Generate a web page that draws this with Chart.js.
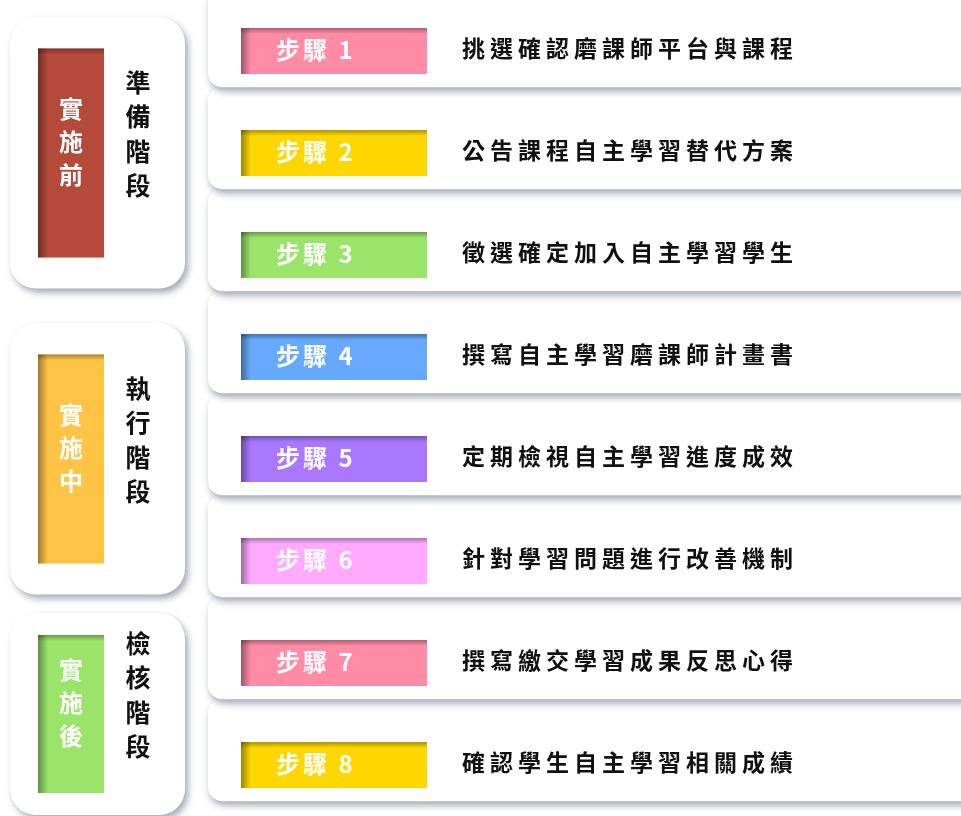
<!DOCTYPE html>
<html>
<head>
<meta charset="utf-8">
<script src="https://cdn.jsdelivr.net/npm/chart.js@4.4.0/dist/chart.umd.min.js"></script>
<style>
html, body { margin: 0; padding: 0; background: #fff; }
#wrap { width: 961px; height: 816px; position: relative; }
</style>
</head>
<body>
<div id="wrap"><canvas id="myChart"></canvas></div>
<script>
// steps (one row each)
const stepLabels = ['步驟 1', '步驟 2', '步驟 3', '步驟 4', '步驟 5', '步驟 6', '步驟 7', '步驟 8'];
const stepTexts = [
    '挑選確認磨課師平台與課程',
    '公告課程自主學習替代方案',
    '徵選確定加入自主學習學生',
    '撰寫自主學習磨課師計畫書',
    '定期檢視自主學習進度成效',
    '針對學習問題進行改善機制',
    '撰寫繳交學習成果反思心得',
    '確認學生自主學習相關成績'
];
const stepColors = ['#FF8BA7', '#FFD700', '#9BE46A', '#66AAFF', '#AA77FF', '#FFAAFF', '#FF8BA7', '#FFD700'];

// phases (groups of steps)
const phaseLabels = ['實施前', '實施中', '實施後'];
const phaseTitles = ['準備階段', '執行階段', '檢核階段'];
const phaseSteps = [3, 3, 2];
const phaseColors = ['#B54A3A', '#FFC445', '#9BE46A'];

const FONT = "'Noto Sans CJK TC', 'Noto Sans', sans-serif";

// x scale runs 0..961, so these are in scale units
const lay = {
    barFrom: 241, barTo: 427,
    cardLeft: 208, cardRight: 990,
    labelX: 276, textX: 462,
    phaseCardL: 10, phaseCardR: 185,
    phaseBoxL: 38, phaseBoxR: 104,
    phaseTitleX: 138
};

function innerShadow(ctx, x0, y0, x1, y1) {
    let g = ctx.createLinearGradient(x0, 0, x0 + 10, 0);
    g.addColorStop(0, 'rgba(0,0,0,0.38)');
    g.addColorStop(1, 'rgba(0,0,0,0)');
    ctx.fillStyle = g;
    ctx.fillRect(x0, y0, 10, y1 - y0);
    g = ctx.createLinearGradient(0, y0, 0, y0 + 6);
    g.addColorStop(0, 'rgba(0,0,0,0.32)');
    g.addColorStop(1, 'rgba(0,0,0,0)');
    ctx.fillStyle = g;
    ctx.fillRect(x0, y0, x1 - x0, 6);
}

function verticalText(ctx, str, x, cy, gap) {
    const chars = Array.from(str);
    chars.forEach((c, k) => {
        ctx.fillText(c, x, cy + (k - (chars.length - 1) / 2) * gap);
    });
}

const layoutPlugin = {
    id: 'layoutPlugin',
    beforeDatasetsDraw(chart) {
        const ctx = chart.ctx;
        const xs = chart.scales.x, ys = chart.scales.y;
        const row = ys.getPixelForValue(1) - ys.getPixelForValue(0);

        // step cards, bottom one first so the upper card's shadow lies on top
        ctx.save();
        for (let i = stepLabels.length - 1; i >= 0; i--) {
            const cy = ys.getPixelForValue(i);
            const top = cy - 0.65 * row, bottom = cy + 0.355 * row;
            ctx.shadowColor = 'rgba(70,80,105,0.5)';
            ctx.shadowBlur = 7;
            ctx.shadowOffsetX = 2;
            ctx.shadowOffsetY = 4;
            ctx.fillStyle = '#fff';
            ctx.beginPath();
            ctx.roundRect(xs.getPixelForValue(lay.cardLeft), top,
                xs.getPixelForValue(lay.cardRight) - xs.getPixelForValue(lay.cardLeft), bottom - top, 14);
            ctx.fill();
        }
        ctx.restore();

        // phase cards + coloured boxes
        let first = 0;
        phaseSteps.forEach((n, p) => {
            const last = first + n - 1;
            const mid = (ys.getPixelForValue(first) + ys.getPixelForValue(last)) / 2;
            const half = (1.05 + 0.5 * (n - 1)) * row / 2;
            const bTop = mid - half, bBot = mid + half;

            ctx.save();
            ctx.shadowColor = 'rgba(70,80,105,0.5)';
            ctx.shadowBlur = 7;
            ctx.shadowOffsetX = 3;
            ctx.shadowOffsetY = 4;
            ctx.fillStyle = '#fff';
            ctx.beginPath();
            const cl = xs.getPixelForValue(lay.phaseCardL), cr = xs.getPixelForValue(lay.phaseCardR);
            const pad = n > 2 ? 31 : 22;
            ctx.roundRect(cl, bTop - pad, cr - cl, bBot - bTop + 2 * pad, 26);
            ctx.fill();
            ctx.restore();

            const bl = xs.getPixelForValue(lay.phaseBoxL), br = xs.getPixelForValue(lay.phaseBoxR);
            ctx.fillStyle = phaseColors[p];
            ctx.fillRect(bl, bTop, br - bl, bBot - bTop);
            innerShadow(ctx, bl, bTop, br, bBot);

            ctx.save();
            ctx.textAlign = 'center';
            ctx.textBaseline = 'middle';
            ctx.fillStyle = '#fff';
            ctx.font = 'bold 24px ' + FONT;
            verticalText(ctx, phaseLabels[p], (bl + br) / 2, mid - 11, 33);
            ctx.fillStyle = '#111';
            ctx.font = 'bold 25px ' + FONT;
            verticalText(ctx, phaseTitles[p], xs.getPixelForValue(lay.phaseTitleX), mid - 19, 34.5);
            ctx.restore();

            first += n;
        });
    },
    afterDatasetsDraw(chart) {
        const ctx = chart.ctx;
        const xs = chart.scales.x;
        const meta = chart.getDatasetMeta(0);
        ctx.save();
        meta.data.forEach((el, i) => {
            const { x, y, base, height } = el.getProps(['x', 'y', 'base', 'height'], true);
            innerShadow(ctx, base, y - height / 2, x, y + height / 2);

            ctx.textBaseline = 'middle';
            ctx.textAlign = 'left';
            ctx.fillStyle = '#fff';
            ctx.font = 'bold 24px ' + FONT;
            ctx.letterSpacing = '3px';
            ctx.fillText(stepLabels[i], xs.getPixelForValue(lay.labelX), y - 1);

            ctx.fillStyle = '#111';
            ctx.font = 'bold 23px ' + FONT;
            ctx.letterSpacing = '5px';
            ctx.fillText(stepTexts[i], xs.getPixelForValue(lay.textX), y - 3);
        });
        ctx.restore();
    }
};

const ctx = document.getElementById('myChart');
const myChart = new Chart(ctx, {
    type: 'bar',
    data: {
        labels: stepLabels,
        datasets: [{
            label: 'steps',
            data: stepLabels.map(() => [lay.barFrom, lay.barTo]),
            backgroundColor: stepColors,
            borderWidth: 0,
            barPercentage: 0.45,
            categoryPercentage: 1
        }]
    },
    options: {
        indexAxis: 'y',
        responsive: true,
        maintainAspectRatio: false,
        animation: false,
        layout: { padding: 0 },
        plugins: {
            legend: { display: false },
            tooltip: { enabled: false }
        },
        scales: {
            x: { type: 'linear', min: 0, max: 961, display: false },
            y: { display: false }
        }
    },
    plugins: [layoutPlugin]
});
</script>
</body>
</html>
